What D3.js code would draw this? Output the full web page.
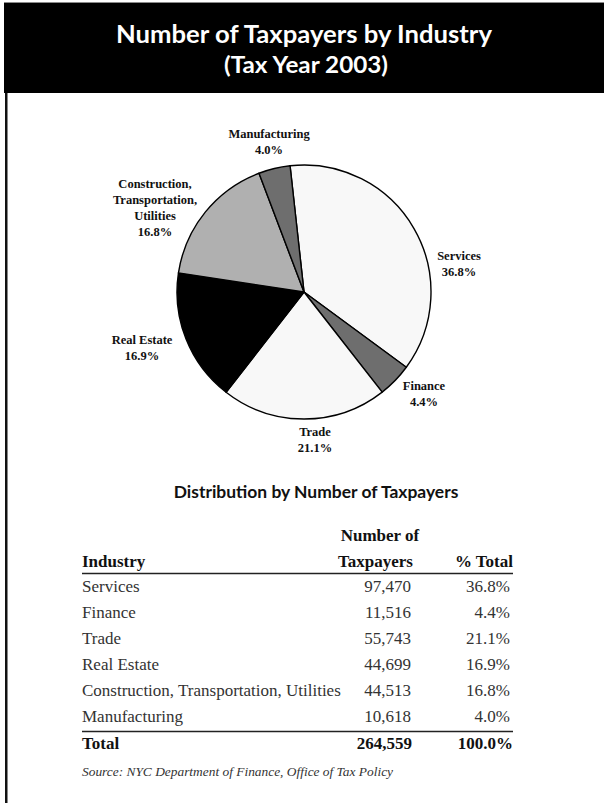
<!DOCTYPE html>
<html>
<head>
<meta charset="utf-8">
<script src="https://cdn.jsdelivr.net/npm/d3@7/dist/d3.min.js"></script>
<style>
  html, body { margin: 0; padding: 0; background: #fff; }
  svg { display: block; }
</style>
</head>
<body>
<svg id="chart" width="604" height="803"></svg>
<script>
// ---- data ----
const industries = ["Services", "Finance", "Trade", "Real Estate", "Construction, Transportation, Utilities", "Manufacturing"];
const taxpayers = [97470, 11516, 55743, 44699, 44513, 10618];
const pctTotal = ["36.8%", "4.4%", "21.1%", "16.9%", "16.8%", "4.0%"];
const pieLabelLines = [["Services"], ["Finance"], ["Trade"], ["Real Estate"], ["Construction,", "Transportation,", "Utilities"], ["Manufacturing"]];
const totalCount = "264,559";
const totalPct = "100.0%";
const title = "Number of Taxpayers by Industry";
const subtitle = "(Tax Year 2003)";
const tableTitle = "Distribution by Number of Taxpayers";
const sourceText = "Source: NYC Department of Finance, Office of Tax Policy";

// ---- styling / layout ----
const fills = ["#f8f8f8", "#6e6e6e", "#f8f8f8", "#000000", "#b0b0b0", "#6e6e6e"];
// label anchor offsets relative to pie centre (annotation placement)
const labelOffsets = [[155, -32], [120, 98], [11, 144], [-162, 52], [-149, -104], [-35, -154]];

const svg = d3.select("#chart");
const W = 604;
const serif = "'Liberation Serif', 'Times New Roman', serif";
const sans = "Lato, 'Open Sans', sans-serif";

// header band
svg.append("rect").attr("x", 4).attr("y", 3).attr("width", 600).attr("height", 90).attr("fill", "#000");
svg.append("line").attr("x1", 4).attr("x2", 604).attr("y1", 2.5).attr("y2", 2.5).attr("stroke", "#8a8a8a").attr("stroke-width", 1);
// left rule
svg.append("rect").attr("x", 5).attr("y", 93).attr("width", 2.5).attr("height", 710).attr("fill", "#111");

function fitText(sel, targetWidth) {
  const node = sel.node();
  const base = parseFloat(sel.attr("font-size"));
  const len = node.getComputedTextLength();
  if (len > 0) sel.attr("font-size", (base * targetWidth / len).toFixed(2));
}

svg.append("text").attr("x", W / 2 + 2).attr("y", 43).attr("text-anchor", "middle")
  .attr("font-family", sans).attr("font-weight", 700).attr("font-size", 25).attr("fill", "#fff")
  .attr("textLength", 376).attr("lengthAdjust", "spacingAndGlyphs").text(title);
svg.append("text").attr("x", W / 2 + 4).attr("y", 73).attr("text-anchor", "middle")
  .attr("font-family", sans).attr("font-weight", 700).attr("font-size", 23).attr("fill", "#fff")
  .attr("textLength", 164).attr("lengthAdjust", "spacingAndGlyphs").text(subtitle);

// ---- pie ----
const cx = 304, cy = 292, R = 127;
const startA = -6.3 * Math.PI / 180;
const pie = d3.pie().sort(null).value(d => d).startAngle(startA).endAngle(startA + 2 * Math.PI);
const arc = d3.arc().innerRadius(0).outerRadius(R);
const arcs = pie(taxpayers);
const g = svg.append("g").attr("transform", `translate(${cx},${cy})`);
g.selectAll("path").data(arcs).join("path")
  .attr("d", arc)
  .attr("fill", (d, i) => fills[i])
  .attr("stroke", "#000").attr("stroke-width", 1.4).attr("stroke-linejoin", "round");

// pie labels
const lg = g.append("g").attr("font-family", serif).attr("font-weight", 700).attr("font-size", 12.5).attr("fill", "#111");
arcs.forEach((d, i) => {
  const lines = pieLabelLines[i].concat([pctTotal[i]]);
  const t = lg.append("text").attr("text-anchor", "middle")
    .attr("x", labelOffsets[i][0]).attr("y", labelOffsets[i][1]);
  lines.forEach((ln, j) => {
    t.append("tspan").attr("x", labelOffsets[i][0]).attr("dy", j === 0 ? 0 : 16).text(ln);
  });
});

// ---- table ----
const t3 = svg.append("text").attr("x", 316).attr("y", 498).attr("text-anchor", "middle")
  .attr("font-family", sans).attr("font-weight", 700).attr("font-size", 15).attr("fill", "#111").text(tableTitle);
fitText(t3, 285);

const xLeft = 82, xNum = 411, xPct = 510, xRight = 513;
const rowY = d3.scaleBand().domain(industries).range([579, 735]).paddingInner(0).paddingOuter(0);
const fs = 17;

const tbl = svg.append("g").attr("font-family", serif).attr("fill", "#111");
tbl.append("text").attr("x", xNum - 31).attr("y", 541).attr("text-anchor", "middle").attr("font-weight", 700).attr("font-size", fs).text("Number of");
tbl.append("text").attr("x", xLeft).attr("y", 566.5).attr("font-weight", 700).attr("font-size", fs).text("Industry");
tbl.append("text").attr("x", xNum + 2).attr("y", 566.5).attr("text-anchor", "end").attr("font-weight", 700).attr("font-size", fs).text("Taxpayers");
tbl.append("text").attr("x", xRight).attr("y", 566.5).attr("text-anchor", "end").attr("font-weight", 700).attr("font-size", fs).text("% Total");
tbl.append("line").attr("x1", xLeft).attr("x2", xRight).attr("y1", 573.5).attr("y2", 573.5).attr("stroke", "#222").attr("stroke-width", 1.6);

const fmt = d3.format(",");
industries.forEach((name, i) => {
  const y = rowY(name) + 13;
  tbl.append("text").attr("x", xLeft).attr("y", y).attr("font-size", fs).attr("fill", "#333").text(name);
  tbl.append("text").attr("x", xNum).attr("y", y).attr("text-anchor", "end").attr("font-size", fs).attr("fill", "#333").text(fmt(taxpayers[i]));
  tbl.append("text").attr("x", xPct).attr("y", y).attr("text-anchor", "end").attr("font-size", fs).attr("fill", "#333").text(pctTotal[i]);
});
tbl.append("line").attr("x1", xLeft).attr("x2", xRight).attr("y1", 731.5).attr("y2", 731.5).attr("stroke", "#222").attr("stroke-width", 1.6);
tbl.append("text").attr("x", xLeft).attr("y", 749).attr("font-weight", 700).attr("font-size", fs).text("Total");
tbl.append("text").attr("x", xNum + 1).attr("y", 749).attr("text-anchor", "end").attr("font-weight", 700).attr("font-size", fs).text(totalCount);
tbl.append("text").attr("x", xRight).attr("y", 749).attr("text-anchor", "end").attr("font-weight", 700).attr("font-size", fs).text(totalPct);

svg.append("text").attr("x", xLeft).attr("y", 776).attr("font-family", serif).attr("font-style", "italic")
  .attr("font-size", 13.4).attr("fill", "#333").text(sourceText);
</script>
</body>
</html>
